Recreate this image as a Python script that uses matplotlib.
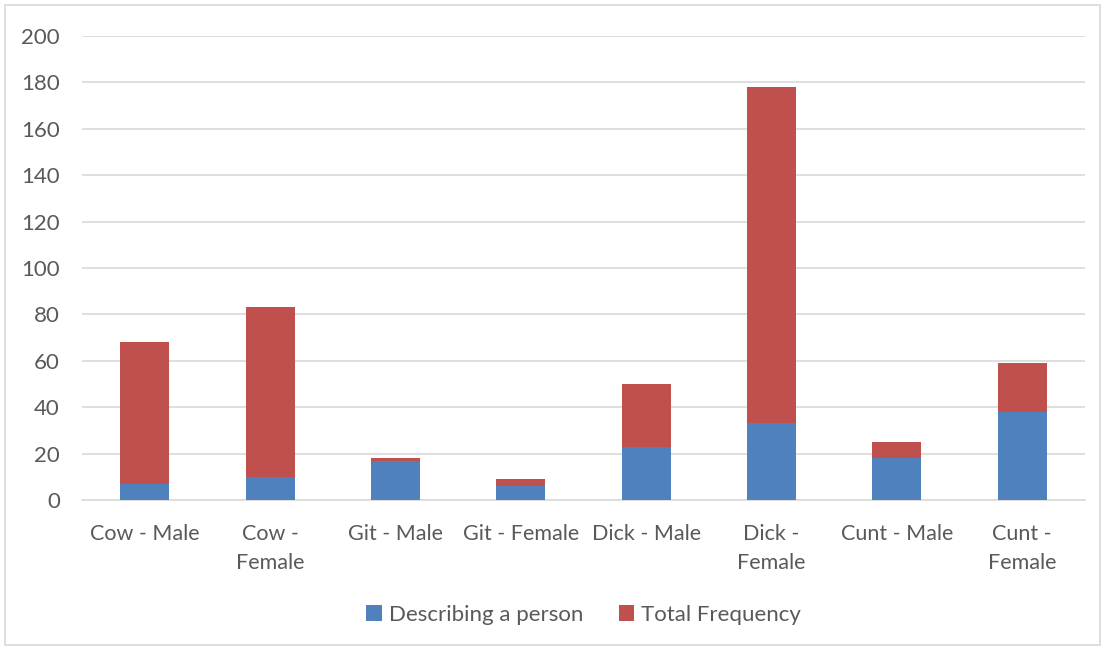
import matplotlib.pyplot as plt
from matplotlib.patches import Rectangle
import numpy as np

plt.rcParams['font.family'] = ['Lato', 'DejaVu Sans']

categories = ['Cow - Male', 'Cow -\nFemale', 'Git - Male', 'Git - Female',
              'Dick - Male', 'Dick -\nFemale', 'Cunt - Male', 'Cunt -\nFemale']
describing = [7, 10, 17, 6, 23, 33, 18, 38]
total_freq = [61, 73, 1, 3, 27, 145, 7, 21]
yticks = [0, 20, 40, 60, 80, 100, 120, 140, 160, 180, 200]

blue = '#4f81bd'
red = '#c0504d'
text_col = '#595959'

fig = plt.figure(figsize=(11.05, 6.48), dpi=100)
ax = fig.add_axes([82 / 1105, 1 - 500 / 648, (1085 - 82) / 1105, 464 / 648])

x = np.arange(len(categories))
width = 0.39
ax.bar(x, describing, width, color=blue, label='Describing a person', zorder=3)
ax.bar(x, total_freq, width, bottom=describing, color=red, label='Total Frequency', zorder=3)

ax.set_xlim(-0.5, len(categories) - 0.5)
ax.set_ylim(0, 200)
ax.set_yticks(yticks)
ax.set_xticks(x)
ax.set_xticklabels(categories, linespacing=1.6)
ax.tick_params(axis='both', length=0, colors=text_col)
ax.tick_params(axis='y', pad=16, labelsize=16)
ax.tick_params(axis='x', pad=17, labelsize=15.5)
for lbl in ax.get_xticklabels():
    lbl.set_verticalalignment('top')

ax.grid(axis='y', color='#d9d9d9', linewidth=1.2, zorder=0)
for side in ['top', 'right', 'left']:
    ax.spines[side].set_visible(False)
ax.spines['bottom'].set_color('#d9d9d9')
ax.spines['bottom'].set_linewidth(1.2)

ax.legend(loc='center', bbox_to_anchor=(0.5, -0.247), ncol=2, frameon=False,
          fontsize=16, labelcolor=text_col, handlelength=0.7, handleheight=0.7,
          handletextpad=0.3, columnspacing=1.6)

# light outline round the whole chart area
fig.patches.append(Rectangle((5 / 1105, 3 / 648), 1095 / 1105, 640 / 648,
                             transform=fig.transFigure, fill=False,
                             edgecolor='#d9d9d9', linewidth=1.2))

fig.savefig('out.png', dpi=100)
